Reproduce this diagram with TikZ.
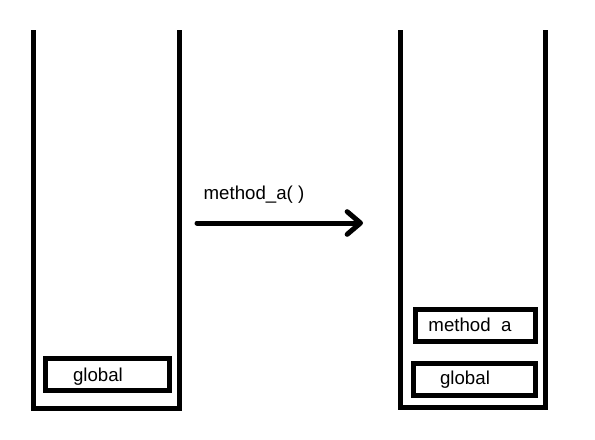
\documentclass[tikz,border=0pt]{standalone}
\usepackage{fontspec}
\setmainfont{Liberation Sans}
\usetikzlibrary{arrows.meta}
\begin{document}
\begin{tikzpicture}[x=0.75pt,y=-0.75pt,
  stackline/.style={line width=3.75pt,line join=miter},
  frame/.style={draw,line width=3.75pt,inner sep=0pt,minimum width=#1*0.75pt,minimum height=24pt},
  lbl/.style={inner sep=0pt,font=\fontsize{14pt}{16pt}\selectfont},
  callarrow/.style={line width=3.75pt,line cap=round,-{Straight Barb[length=10pt,width=17pt,line cap=round,line join=round]}}]
\useasboundingbox (0,0) rectangle (595,439);
% stacks
\draw[stackline] (33,30) -- (33,408) -- (179,408) -- (179,30);
\draw[stackline] (400.5,30) -- (400.5,407.5) -- (545.5,407.5) -- (545.5,30);
% left stack frame
\node[frame=124] (gl) at (107.5,374.5) {};
\node[lbl] (gltxt) at (98,377) {global};
% right stack frames
\node[frame=120] (ma) at (475.5,325) {};
\node[lbl] (matxt) at (470,327) {method\phantom{\_}a};
\node[frame=122] (gr) at (474.5,379) {};
\node[lbl] (grtxt) at (465,380) {global};
% arrow
\coordinate (a1) at (197,223);
\coordinate (a2) at (363,223);
\draw[callarrow] (a1) -- (a2);
\node[lbl] (call) at (254,195) {method\_a( )};
\end{tikzpicture}
\end{document}
